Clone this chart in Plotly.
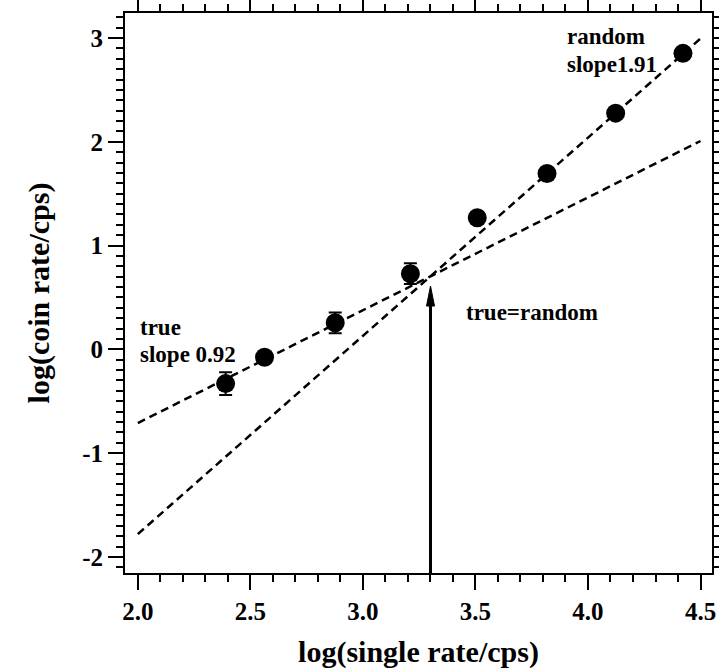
import numpy as np
import plotly.graph_objects as go

# Measured coincidence rate vs. single rate (log10 of counts per second)
log_single = [2.390, 2.563, 2.877, 3.211, 3.508, 3.818, 4.123, 4.422]
log_coin = [-0.330, -0.076, 0.256, 0.729, 1.269, 1.694, 2.276, 2.852]
log_coin_err = [0.11, 0.05, 0.10, 0.10, 0.05, 0.05, 0.05, 0.05]

# Fitted lines: true coincidences (x = 0.92*y + b) and random ones (y = 1.91*x + c)
true_slope = 0.92
true_offset = 2.653
random_slope = 1.91
random_offset = -5.60
fit_x_span = [2.0, 4.5]

# Axis settings
x_range = [1.943, 4.551]
y_range = [-2.155, 3.241]
x_ticks = [2.0, 2.5, 3.0, 3.5, 4.0, 4.5]
x_tick_text = ["2.0", "2.5", "3.0", "3.5", "4.0", "4.5"]
y_ticks = [-2, -1, 0, 1, 2, 3]
y_tick_text = ["-2", "-1", "0", "1", "2", "3"]

# Arrow marking the crossing point
arrow_tip_y = 0.61

FONT = "Liberation Serif"

fit_x = np.array(fit_x_span)
true_y = (fit_x - true_offset) / true_slope
random_y = random_slope * fit_x + random_offset

# crossing of the two fits
cross_x = (random_offset + true_offset / true_slope) / (1.0 / true_slope - random_slope)

fig = go.Figure()

dash_line = dict(color="black", width=2.5, dash="8px,5px")
fig.add_trace(go.Scatter(x=fit_x, y=true_y, mode="lines", line=dash_line,
                         showlegend=False, hoverinfo="skip"))
fig.add_trace(go.Scatter(x=fit_x, y=random_y, mode="lines", line=dash_line,
                         showlegend=False, hoverinfo="skip"))

fig.add_trace(go.Scatter(
    x=log_single, y=log_coin, mode="markers",
    marker=dict(size=19, color="black"),
    error_y=dict(type="data", array=log_coin_err, visible=True,
                 color="black", thickness=2, width=6.5),
    showlegend=False,
))

# arrow shaft and head
fig.add_shape(type="line", xref="x", yref="y",
              x0=cross_x, x1=cross_x, y0=y_range[0], y1=arrow_tip_y - 0.1,
              line=dict(color="black", width=3))
fig.add_shape(type="path", xref="x", yref="y",
              xsizemode="pixel", ysizemode="pixel",
              xanchor=cross_x, yanchor=arrow_tip_y,
              path="M0,0 L-4,-20 L4,-20 Z",
              fillcolor="black", line=dict(color="black", width=1))

ann_font = dict(family=FONT, size=23, color="black", weight="bold")
labels = [
    ("true", 2.0, 0.213),
    ("slope 0.92", 2.0, -0.047),
    ("random", 3.900, 3.019),
    ("slope1.91", 3.897, 2.749),
    ("true=random", 3.450, 0.358),
]
for txt, lx, ly in labels:
    fig.add_annotation(x=lx, y=ly, xref="x", yref="y", text=txt,
                       showarrow=False, xanchor="left", yanchor="middle",
                       font=ann_font)

tick_font = dict(family=FONT, size=25, color="black", weight="bold")
title_font = dict(family=FONT, size=30, color="black", weight="bold")
minor_common = dict(ticks="outside", ticklen=7, tickwidth=1.5, tickcolor="black",
                    showgrid=False)

fig.update_xaxes(
    range=x_range, tickmode="array", tickvals=x_ticks, ticktext=x_tick_text,
    ticks="outside", ticklen=15, tickwidth=2, tickcolor="black",
    showline=True, linewidth=2, linecolor="black", mirror="ticks",
    showgrid=False, zeroline=False, tickfont=tick_font, automargin=False,
    minor=dict(dtick=0.1, tick0=2.0, **minor_common),
    title=dict(text="log(single rate/cps)", font=title_font, standoff=17),
)
fig.update_yaxes(
    range=y_range, tickmode="array", tickvals=y_ticks, ticktext=y_tick_text,
    ticks="outside", ticklen=15, tickwidth=2, tickcolor="black",
    showline=True, linewidth=2, linecolor="black", mirror="ticks",
    showgrid=False, zeroline=False, tickfont=tick_font, automargin=False,
    minor=dict(dtick=0.1, tick0=0, **minor_common),
    title=dict(text="log(coin rate/cps)", font=title_font, standoff=24),
)

fig.update_layout(
    width=719, height=669,
    margin=dict(l=125, r=7, t=13, b=96),
    plot_bgcolor="white", paper_bgcolor="white",
    font=dict(family=FONT, color="black"),
)

fig.write_html("out.html")
